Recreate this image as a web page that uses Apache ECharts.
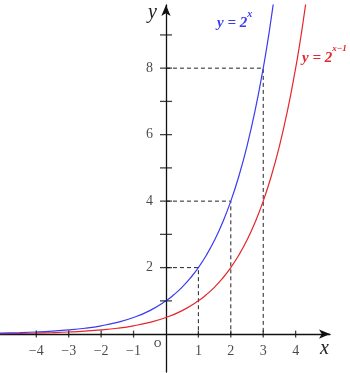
<!DOCTYPE html>
<html><head><meta charset="utf-8">
<script src="https://cdn.jsdelivr.net/npm/echarts@6/dist/echarts.min.js"></script>
<style>html,body{margin:0;padding:0;background:#fff}#c{width:350px;height:373px}</style>
</head><body><div id="c"></div>
<script>
// Sampled points of y = 2^x
var blueX = [-5.12, -4.5, -4, -3.5, -3, -2.5, -2, -1.5, -1, -0.5, 0, 0.25, 0.5, 0.75, 1, 1.25, 1.5, 1.75, 2, 2.25, 2.5, 2.75, 3, 3.1, 3.2, 3.35];
var blueY = [0.0288, 0.0442, 0.0625, 0.0884, 0.125, 0.1768, 0.25, 0.3536, 0.5, 0.7071, 1, 1.1892, 1.4142, 1.6818, 2, 2.3784, 2.8284, 3.3636, 4, 4.7568, 5.6569, 6.7272, 8, 8.5742, 9.1896, 10.197];
// Sampled points of y = 2^(x-1)
var redX = [-5.12, -4.5, -4, -3.5, -3, -2.5, -2, -1.5, -1, -0.5, 0, 0.5, 1, 1.25, 1.5, 1.75, 2, 2.25, 2.5, 2.75, 3, 3.25, 3.5, 3.75, 4, 4.1, 4.2, 4.35];
var redY = [0.0144, 0.0221, 0.03125, 0.0442, 0.0625, 0.0884, 0.125, 0.1768, 0.25, 0.3536, 0.5, 0.7071, 1, 1.1892, 1.4142, 1.6818, 2, 2.3784, 2.8284, 3.3636, 4, 4.7568, 5.6569, 6.7272, 8, 8.5742, 9.1896, 10.197];
// Dashed guide points (x, 2^x)
var guideX = [1, 2, 3];
var guideY = [2, 4, 8];
// Tick positions and labels
var xTicks = [-4, -3, -2, -1, 1, 2, 3, 4];
var yTicks = [1, 2, 3, 4, 5, 6, 7, 8, 9];
var yLabels = [2, 4, 6, 8];

var serif = '"Liberation Serif", "DejaVu Serif", serif';
var BLUE = '#3b3bf0', RED = '#e5262a';
function zip(a, b) { return a.map(function (v, i) { return [v, b[i]]; }); }

var guideSeries = guideX.map(function (gx, i) {
  return {
    type: 'line', data: [[0, guideY[i]], [gx, guideY[i]], [gx, 0]],
    showSymbol: false, silent: true, z: 1,
    lineStyle: { color: '#222', width: 1, type: [4, 3] }
  };
});

var chart = echarts.init(document.getElementById('c'));
chart.setOption({
  animation: false,
  grid: { left: 0, right: 20, top: 5, bottom: 1, containLabel: false, outerBoundsMode: 'none' },
  xAxis: {
    type: 'value', min: -5.12, max: 5.06,
    splitLine: { show: false },
    axisTick: { show: false },
    axisLabel: { show: false },
    axisLine: { onZero: true, symbol: ['none', 'arrow'], symbolSize: [7, 11], lineStyle: { color: '#111', width: 1.3 } }
  },
  yAxis: {
    type: 'value', min: -1.14, max: 9.9,
    splitLine: { show: false },
    axisTick: { show: false },
    axisLabel: { show: false },
    axisLine: { onZero: true, symbol: ['none', 'arrow'], symbolSize: [7, 11], lineStyle: { color: '#111', width: 1.3 } }
  },
  series: guideSeries.concat([
    {
      type: 'line', data: zip(redX, redY), showSymbol: false, smooth: true, z: 3,
      lineStyle: { color: RED, width: 1.2 }
    },
    {
      type: 'line', data: zip(blueX, blueY), showSymbol: false, smooth: true, z: 3,
      lineStyle: { color: BLUE, width: 1.2 }
    },
    {
      type: 'scatter', data: xTicks.map(function (t) { return [t, 0]; }),
      symbol: 'rect', symbolSize: [1.3, 7], itemStyle: { color: '#111' }, silent: true, z: 4,
      label: {
        show: true, position: 'bottom', distance: 7, color: '#1a1a1a', fontFamily: serif, fontSize: 14,
        formatter: function (p) { var v = p.value[0]; return v < 0 ? '\u2212' + (-v) : String(v); }
      }
    },
    {
      type: 'scatter', data: yTicks.map(function (t) { return [0, t]; }),
      symbol: 'rect', symbolSize: [12, 1.3], itemStyle: { color: '#111' }, silent: true, z: 4,
      label: {
        show: true, position: 'left', distance: 7, color: '#1a1a1a', fontFamily: serif, fontSize: 14,
        formatter: function (p) { return yLabels.indexOf(p.value[1]) >= 0 ? String(p.value[1]) : ''; }
      }
    }
  ]),
  graphic: [
    { type: 'text', left: 154, top: 339, style: { text: 'O', font: '10px ' + serif, fill: '#222' } },
    { type: 'text', left: 320, top: 339, style: { text: 'x', font: 'italic 20px ' + serif, fill: '#222' } },
    { type: 'text', left: 148, top: 3, style: { text: 'y', font: 'italic 20px ' + serif, fill: '#222' } },
    {
      type: 'text', left: 217, top: 9,
      style: {
        text: '{a|y = 2}{s|x}',
        rich: {
          a: { fontStyle: 'italic', fontWeight: 'bold', fontFamily: serif, fontSize: 15, fill: BLUE, lineHeight: 22, verticalAlign: 'bottom' },
          s: { fontStyle: 'italic', fontWeight: 'bold', fontFamily: serif, fontSize: 10, fill: BLUE, lineHeight: 22, verticalAlign: 'top' }
        }
      }
    },
    {
      type: 'text', left: 302, top: 44,
      style: {
        text: '{a|y = 2}{s|x\u22121}',
        rich: {
          a: { fontStyle: 'italic', fontWeight: 'bold', fontFamily: serif, fontSize: 15, fill: RED, lineHeight: 22, verticalAlign: 'bottom' },
          s: { fontStyle: 'italic', fontWeight: 'bold', fontFamily: serif, fontSize: 9, fill: RED, lineHeight: 22, verticalAlign: 'top' }
        }
      }
    }
  ]
});
</script></body></html>
